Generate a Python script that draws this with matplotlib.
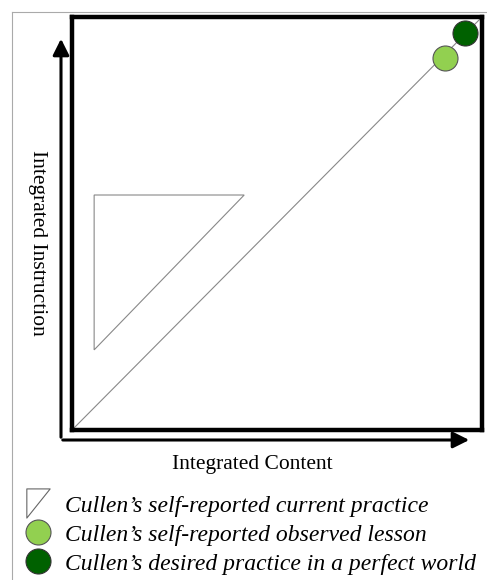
import matplotlib
matplotlib.use("Agg")
import matplotlib.pyplot as plt
from matplotlib.lines import Line2D
from matplotlib.path import Path

# data (0..1 scale on both axes)
diag_x = [0, 1]
diag_y = [0, 1]
tri_x = [0.054, 0.42, 0.054]
tri_y = [0.569, 0.569, 0.194]
observed = (0.91, 0.90)
desired = (0.958, 0.961)
labels = ["Cullen\u2019s self-reported current practice",
          "Cullen\u2019s self-reported observed lesson",
          "Cullen\u2019s desired practice in a perfect world"]
light_green = "#92d050"
dark_green = "#006100"

W, H = 487, 580
fig = plt.figure(figsize=(W / 100, H / 100), dpi=100)

# thin gray outer frame (top and left)
fig.add_artist(Line2D([12 / W, 1], [1 - 12 / H, 1 - 12 / H], color="#aaaaaa", lw=0.8))
fig.add_artist(Line2D([12 / W, 12 / W], [0, 1 - 12 / H], color="#aaaaaa", lw=0.8))

ax = fig.add_axes([72 / W, 1 - 430 / H, 410 / W, 413 / H])
ax.set_xlim(0, 1)
ax.set_ylim(0, 1)
ax.set_xticks([])
ax.set_yticks([])
for s in ax.spines.values():
    s.set_linewidth(3.2)
    s.set_color("black")

ax.plot(diag_x, diag_y, color="#888888", lw=0.8)
ax.fill(tri_x, tri_y, facecolor="none", edgecolor="#888888", lw=0.8)
ax.plot(*observed, "o", ms=18, mfc=light_green, mec="#555555", mew=0.8, clip_on=False)
ax.plot(*desired, "o", ms=18, mfc=dark_green, mec="#333333", mew=0.8, clip_on=False)

# axis arrows
ox, oy = 61 / W, 1 - 440 / H
fig.add_artist(matplotlib.patches.FancyArrowPatch((ox, oy), (ox, 1 - 36 / H), transform=fig.transFigure,
               arrowstyle="-|>,head_length=0.7,head_width=0.35", mutation_scale=14, lw=2.2, color="black"))
fig.add_artist(matplotlib.patches.FancyArrowPatch((ox - 1 / W, oy), (472 / W, oy), transform=fig.transFigure,
               arrowstyle="-|>,head_length=0.7,head_width=0.35", mutation_scale=14, lw=2.2, color="black"))

fig.text(252 / W, 1 - 465 / H, "Integrated Content", family="Liberation Serif", fontsize=15.5,
         ha="center", va="center")
fig.text(37 / W, 1 - 243 / H, "Integrated Instruction", family="Liberation Serif", fontsize=15.5,
         ha="center", va="center", rotation=270)

tri_marker = Path([(-0.8, 1), (0.8, 1), (-0.8, -1), (-0.8, 1)],
                  [Path.MOVETO, Path.LINETO, Path.LINETO, Path.CLOSEPOLY])
handles = [
    Line2D([], [], ls="none", marker=tri_marker, ms=21, mfc="white", mec="#666666", mew=0.8),
    Line2D([], [], ls="none", marker="o", ms=18, mfc=light_green, mec="#555555", mew=0.8),
    Line2D([], [], ls="none", marker="o", ms=18, mfc=dark_green, mec="#333333", mew=0.8),
]
fig.legend(handles, labels, loc="upper left", bbox_to_anchor=(24 / W, 1 - 495 / H),
           frameon=False, prop={"family": "Liberation Serif", "style": "italic", "size": 17},
           handlelength=1.2, handletextpad=0.55, labelspacing=0.32, borderpad=0, borderaxespad=0)

fig.savefig("out.png", dpi=100)
